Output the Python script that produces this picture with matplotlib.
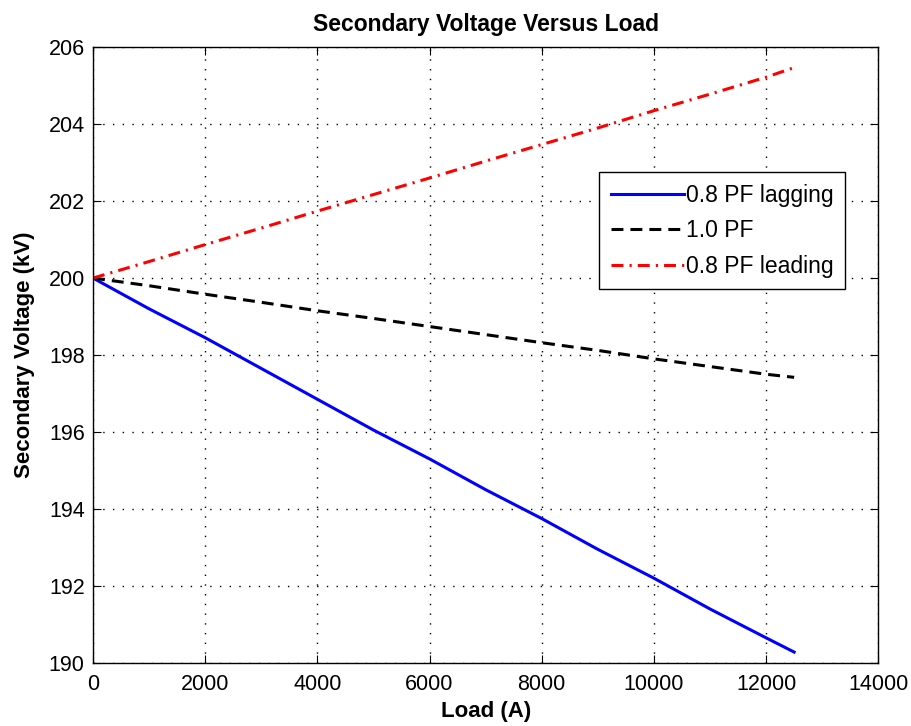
import matplotlib
matplotlib.use('Agg')
import matplotlib.pyplot as plt

plt.rcParams['font.family'] = ['Liberation Sans', 'DejaVu Sans']

# load points and secondary voltage (kV)
load = [0, 1000, 2000, 3000, 4000, 5000, 6000, 7000, 8000, 9000, 10000, 11000, 12000, 12500]
v_lag = [200.0, 199.2, 198.45, 197.65, 196.85, 196.05, 195.3, 194.5, 193.75, 192.95, 192.2, 191.4, 190.65, 190.28]
v_unity = [200.0, 199.8, 199.58, 199.37, 199.15, 198.95, 198.74, 198.53, 198.32, 198.12, 197.9, 197.7, 197.5, 197.42]
v_lead = [200.0, 200.43, 200.87, 201.3, 201.74, 202.17, 202.6, 203.04, 203.47, 203.9, 204.35, 204.78, 205.22, 205.47]

fig = plt.figure(figsize=(9.12, 7.26), dpi=100)
ax = fig.add_axes([0.102, 0.087, 0.861, 0.848])

ax.plot(load, v_lag, color='#0000ff', linestyle='-', linewidth=2.2, label='0.8 PF lagging')
ax.plot(load, v_unity, color='black', linestyle=(0, (3.9, 2.3)), linewidth=2.2, label='1.0 PF')
ax.plot(load, v_lead, color='#ff0000', linestyle=(0, (3.9, 2.0, 0.7, 2.0)), linewidth=2.2, label='0.8 PF leading')

ax.set_xlim(0, 14000)
ax.set_ylim(190, 206)
ax.set_xticks(range(0, 14001, 2000))
ax.set_yticks(range(190, 207, 2))
ax.tick_params(direction='in', labelsize=15.5, top=True, right=True, length=6)
ax.tick_params(axis='x', pad=8)
ax.tick_params(axis='y', pad=6)
ax.grid(True, linestyle=(0, (1, 6)), color='black', linewidth=1.0)
for s in ax.spines.values():
    s.set_linewidth(1)

ax.set_title('Secondary Voltage Versus Load', fontsize=16.5, fontweight='bold', pad=12)
ax.set_xlabel('Load (A)', fontsize=16, fontweight='bold', labelpad=4)
ax.set_ylabel('Secondary Voltage (kV)', fontsize=16, fontweight='bold', labelpad=10)

leg = ax.legend(loc='upper right', bbox_to_anchor=(0.958, 0.797), fontsize=16.5,
                fancybox=False, framealpha=1, edgecolor='black', handlelength=3.2,
                borderpad=0.5, handletextpad=0.1, borderaxespad=0, labelspacing=0.55)
leg.get_frame().set_linewidth(1)

fig.savefig('out.png', dpi=100)
